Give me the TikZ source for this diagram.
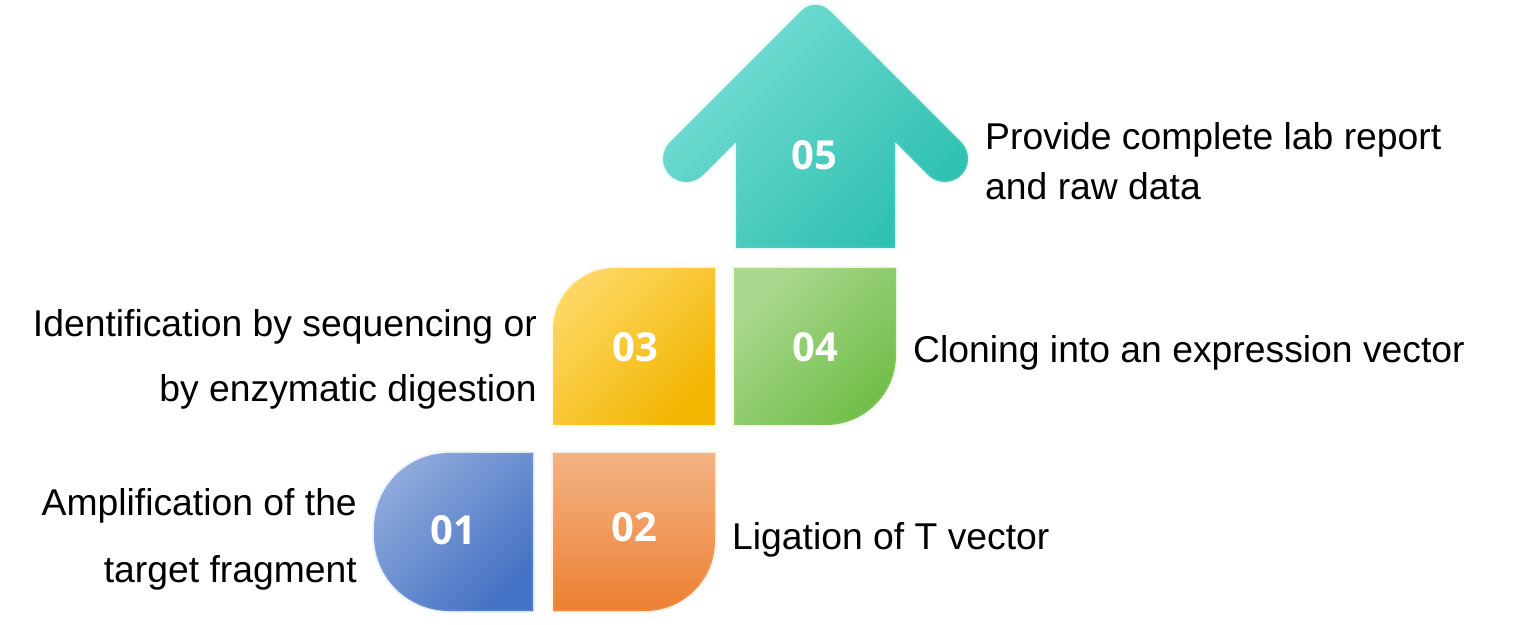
\documentclass[tikz,border=0pt]{standalone}
\usepackage{fontspec}
\setmainfont{Liberation Sans}
\newfontfamily\numfont{Open Sans}
\definecolor{bA}{HTML}{8EA9DB}\definecolor{bB}{HTML}{4472C4}
\definecolor{oA}{HTML}{F4B384}\definecolor{oB}{HTML}{ED7F32}
\definecolor{yA}{HTML}{FDD762}\definecolor{yB}{HTML}{F2B500}
\definecolor{gA}{HTML}{ABD891}\definecolor{gB}{HTML}{71BF49}
\definecolor{tA}{HTML}{78DDD4}\definecolor{tB}{HTML}{2DC0B0}
\tikzset{
  num/.style={text=white, inner sep=0pt, font=\numfont\bfseries\fontsize{40}{40}\selectfont},
  lbl/.style={text=black, inner sep=0pt, font=\fontsize{37.3}{45}\selectfont},
  glow/.style={draw=#1, draw opacity=0.15, line width=4pt},
}
\begin{document}
\begin{tikzpicture}[x=1pt,y=1pt]
\useasboundingbox (0,0) rectangle (1525,624);
% 01
\path[glow=bA, top color=bA, bottom color=bB, shading angle=45]
  (533,171) -- (449,171) arc[start angle=90, end angle=180, radius=75]
  -- (374,88) arc[start angle=180, end angle=270, radius=75] -- (533,13) -- cycle;
% 02
\path[glow=oA, top color=oA, bottom color=oB]
  (553,171) -- (715,171) -- (715,83) arc[start angle=0, end angle=-90, radius=70]
  -- (553,13) -- cycle;
% 03
\path[glow=yA, top color=yA, bottom color=yB, shading angle=45]
  (715,356) -- (615,356) arc[start angle=90, end angle=180, radius=62]
  -- (553,199) -- (715,199) -- cycle;
% 04
\path[glow=gA, top color=gA, bottom color=gB, shading angle=45]
  (734,356) -- (896,356) -- (896,269) arc[start angle=0, end angle=-90, radius=70]
  -- (734,199) -- cycle;
% 05 arrow
\path[glow=tA, top color=tA, bottom color=tB, shading angle=45]
  (736,376) -- (736,482) -- (702.8,448.8)
  arc[start angle=-45, end angle=-225, radius=23.3]
  -- (801.4,613.3) arc[start angle=135, end angle=45, radius=20]
  -- (961.2,481.8) arc[start angle=45, end angle=-135, radius=23.3]
  -- (895,482) -- (895,376) -- cycle;
% numbers
\node[num] (n1) at (453.5,93.5) {01};
\node[num] (n2) at (634,97) {02};
\node[num] (n3) at (635,277) {03};
\node[num] (n4) at (815,277) {04};
\node[num] (n5) at (814,469) {05};
% labels
\node[lbl, anchor=base west] (t5a) at (985,474) {Provide complete lab report};
\node[lbl, anchor=base west] (t5b) at (985,424) {and raw data};
\node[lbl, anchor=base west] (t4) at (913,261) {Cloning into an expression vector};
\node[lbl, anchor=base east] (t3a) at (537,287) {Identification by sequencing or};
\node[lbl, anchor=base east] (t3b) at (537,222) {by enzymatic digestion};
\node[lbl, anchor=base west] (t2) at (732,75) {Ligation of T vector};
\node[lbl, anchor=base east] (t1a) at (357,109) {Amplification of the};
\node[lbl, anchor=base east] (t1b) at (357,42) {target fragment};
\end{tikzpicture}
\end{document}
